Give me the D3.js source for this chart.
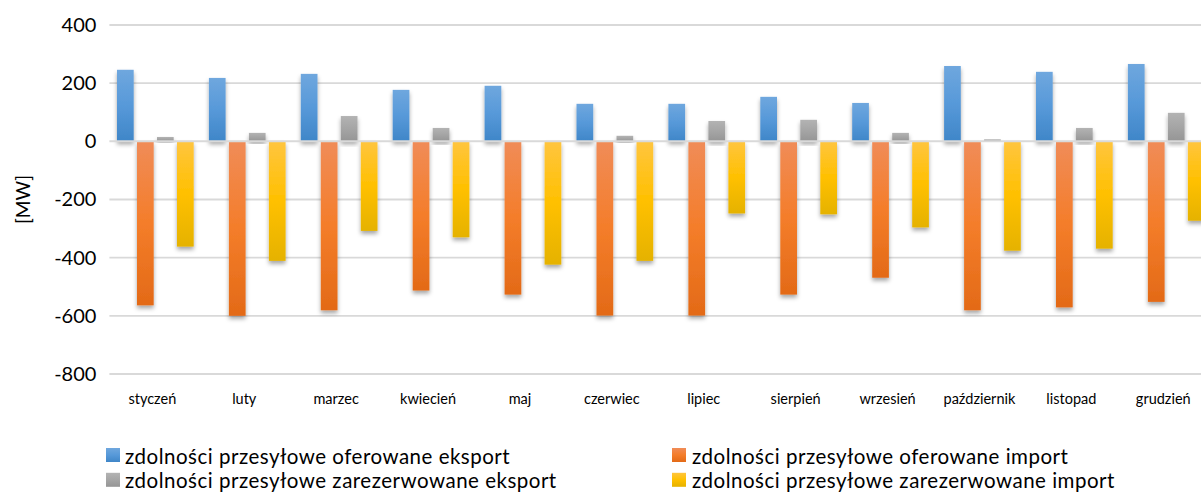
<!DOCTYPE html>
<html>
<head>
<meta charset="utf-8">
<script src="https://cdn.jsdelivr.net/npm/d3@7"></script>
<style>
  body { margin: 0; background: #fff; }
  svg { display: block; font-family: Lato, "Open Sans", sans-serif; }
</style>
</head>
<body>
<svg id="chart" width="1201" height="493"></svg>
<script>
const months = ['styczeń', 'luty', 'marzec', 'kwiecień', 'maj', 'czerwiec', 'lipiec', 'sierpień', 'wrzesień', 'październik', 'listopad', 'grudzień'];
const ofExport = [246, 218, 232, 177, 191, 129, 129, 153, 132, 259, 239, 266];
const ofImport = [-564, -600, -581, -513, -527, -599, -599, -527, -469, -581, -571, -552];
const rezExport = [15, 29, 87, 46, 0, 19, 70, 74, 29, 7, 46, 98];
const rezImport = [-362, -411, -308, -330, -424, -411, -248, -251, -296, -376, -369, -273];
const yTicks = [400, 200, 0, -200, -400, -600, -800];

const series = [
  { key: 'oe', name: 'zdolności przesyłowe oferowane eksport', values: ofExport, stops: ['#6fa7de', '#5799d9', '#3f86c8'] },
  { key: 'oi', name: 'zdolności przesyłowe oferowane import', values: ofImport, stops: ['#f08c58', '#f47d2a', '#e36a17'] },
  { key: 're', name: 'zdolności przesyłowe zarezerwowane eksport', values: rezExport, stops: ['#b3b3b3', '#a5a5a5', '#959595'] },
  { key: 'ri', name: 'zdolności przesyłowe zarezerwowane import', values: rezImport, stops: ['#ffc53f', '#ffc000', '#e5b200'] }
];

const svg = d3.select('#chart');
const defs = svg.append('defs');

series.forEach(s => {
  const g = defs.append('linearGradient')
    .attr('id', 'grad-' + s.key)
    .attr('x1', 0).attr('y1', 0).attr('x2', 0).attr('y2', 1);
  g.append('stop').attr('offset', '0%').attr('stop-color', s.stops[0]);
  g.append('stop').attr('offset', '50%').attr('stop-color', s.stops[1]);
  g.append('stop').attr('offset', '100%').attr('stop-color', s.stops[2]);
});

const shadow = defs.append('filter').attr('id', 'shadow')
  .attr('x', '-30%').attr('y', '-10%').attr('width', '160%').attr('height', '130%');
shadow.append('feDropShadow')
  .attr('dx', 0).attr('dy', 3).attr('stdDeviation', 2)
  .attr('flood-color', '#000').attr('flood-opacity', 0.35);

const plotLeft = 109.4, step = 91.9;
const plotTop = 25, plotBottom = 374;

const y = d3.scaleLinear().domain([-800, 400]).range([plotBottom, plotTop]);

const x0 = d3.scaleBand()
  .domain(months)
  .range([plotLeft, plotLeft + step * months.length])
  .padding(0);

const x1 = d3.scaleBand()
  .domain(series.map(s => s.key))
  .range([0, x0.bandwidth()])
  .paddingInner(0.165)
  .paddingOuter(0.38);

// gridlines
svg.append('g')
  .selectAll('line')
  .data(yTicks.filter(t => t !== 0))
  .enter().append('line')
  .attr('x1', plotLeft).attr('x2', 1201)
  .attr('y1', d => y(d)).attr('y2', d => y(d))
  .attr('stroke', '#d9d9d9')
  .attr('stroke-width', 1.8);

// bars
const groups = svg.append('g')
  .selectAll('g')
  .data(months)
  .enter().append('g')
  .attr('transform', d => `translate(${x0(d)},0)`);

groups.selectAll('rect')
  .data((m, i) => series.map(s => ({ key: s.key, v: s.values[i] })).filter(d => d.v !== 0))
  .enter().append('rect')
  .attr('x', d => x1(d.key))
  .attr('width', x1.bandwidth())
  .attr('y', d => Math.min(y(d.v), y(0)))
  .attr('height', d => Math.abs(y(d.v) - y(0)))
  .attr('fill', d => `url(#grad-${d.key})`)
  .attr('filter', 'url(#shadow)');

// zero axis line on top
svg.append('line')
  .attr('x1', plotLeft).attr('x2', 1201)
  .attr('y1', y(0)).attr('y2', y(0))
  .attr('stroke', '#d9d9d9')
  .attr('stroke-width', 2);

// y axis labels (plain hyphen for negatives)
const yAxis = d3.axisLeft(y).tickValues(yTicks).tickFormat(d => String(d)).tickSize(0).tickPadding(13);
svg.append('g')
  .attr('transform', `translate(${plotLeft},0)`)
  .call(yAxis)
  .call(g => g.select('.domain').remove())
  .selectAll('text')
  .attr('font-family', 'Lato, "Open Sans", sans-serif')
  .attr('font-size', 20)
  .attr('fill', '#000');

svg.append('text')
  .attr('transform', `translate(30,${(plotTop + plotBottom) / 2}) rotate(-90)`)
  .attr('text-anchor', 'middle')
  .attr('font-size', 19)
  .attr('fill', '#000')
  .text('[MW]');

// x labels
svg.append('g')
  .selectAll('text')
  .data(months)
  .enter().append('text')
  .attr('x', d => x0(d) + x0.bandwidth() / 2 - 3)
  .attr('y', 404)
  .attr('text-anchor', 'middle')
  .attr('font-size', 14.5)
  .attr('fill', '#000')
  .text(d => d);

// legend (two columns, two rows; rows given by text baseline)
const legendPos = [
  { x: 106, y: 463.5 },
  { x: 672, y: 463.5 },
  { x: 106, y: 488.3 },
  { x: 672, y: 488.3 }
];
const legend = svg.append('g')
  .selectAll('g')
  .data(series)
  .enter().append('g')
  .attr('transform', (d, i) => `translate(${legendPos[i].x},${legendPos[i].y})`);

legend.append('rect')
  .attr('y', -15.5)
  .attr('width', 14).attr('height', 14)
  .attr('fill', d => `url(#grad-${d.key})`);

legend.append('text')
  .attr('x', (d, i) => i % 2 ? 20 : 19)
  .attr('y', 0)
  .attr('font-size', 20.5)
  .attr('letter-spacing', 0.5)
  .attr('fill', '#000')
  .text(d => d.name);
</script>
</body>
</html>
